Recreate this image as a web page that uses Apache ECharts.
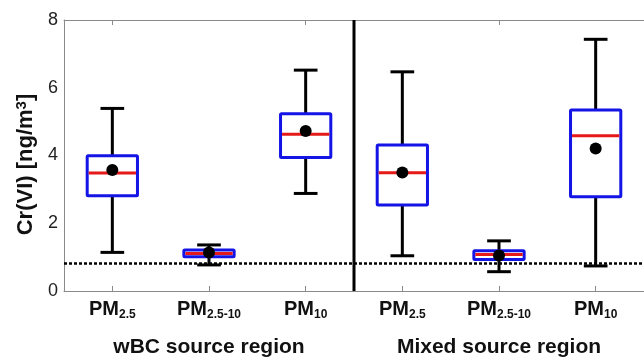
<!DOCTYPE html>
<html>
<head>
<meta charset="utf-8">
<script src="https://cdn.jsdelivr.net/npm/echarts@6/dist/echarts.min.js"></script>
<style>html,body{margin:0;padding:0;background:#fff;}#c{width:644px;height:359px;}</style>
</head>
<body>
<div id="c"></div>
<script>
// categories (one per box)
var categories = ['wBC PM2.5', 'wBC PM2.5-10', 'wBC PM10', 'Mixed PM2.5', 'Mixed PM2.5-10', 'Mixed PM10'];
var subscripts = ['2.5', '2.5-10', '10', '2.5', '2.5-10', '10'];
var groups = ['wBC source region', 'Mixed source region'];
// box stats: [min, q1, median, q3, max]
var boxMin    = [1.14, 0.77, 2.88, 1.04, 0.57, 0.74];
var boxQ1     = [2.81, 1.01, 3.94, 2.54, 0.93, 2.78];
var boxMedian = [3.48, 1.11, 4.63, 3.49, 1.08, 4.58];
var boxQ3     = [3.99, 1.21, 5.23, 4.31, 1.19, 5.34];
var boxMax    = [5.39, 1.36, 6.52, 6.47, 1.48, 7.43];
var means     = [3.57, 1.14, 4.72, 3.50, 1.05, 4.21];
var refLine = 0.83;      // dotted reference level
var separatorAfter = 2;  // index of the last box in the first group
var yTicks = [0, 2, 4, 6, 8];

var boxData = categories.map(function (c, i) {
  return [i, boxMin[i], boxQ1[i], boxMedian[i], boxQ3[i], boxMax[i]];
});
var meanData = categories.map(function (c, i) { return [i, means[i]]; });

var chart = echarts.init(document.getElementById('c'), null, {renderer: 'canvas'});

function renderBox(params, api) {
  var x = api.value(0);
  var band = api.size([1, 0])[0];
  var bw = band * 0.52, cw = band * 0.245;
  var pMin = api.coord([x, api.value(1)]);
  var pQ1 = api.coord([x, api.value(2)]);
  var pMed = api.coord([x, api.value(3)]);
  var pQ3 = api.coord([x, api.value(4)]);
  var pMax = api.coord([x, api.value(5)]);
  var cx = pMin[0];
  var black = {stroke: '#000', lineWidth: 3, lineCap: 'butt'};
  return {
    type: 'group',
    children: [
      {type: 'line', shape: {x1: cx, y1: pMin[1], x2: cx, y2: pQ1[1]}, style: black},
      {type: 'line', shape: {x1: cx, y1: pQ3[1], x2: cx, y2: pMax[1]}, style: black},
      {type: 'line', shape: {x1: cx - cw / 2, y1: pMin[1], x2: cx + cw / 2, y2: pMin[1]}, style: black},
      {type: 'line', shape: {x1: cx - cw / 2, y1: pMax[1], x2: cx + cw / 2, y2: pMax[1]}, style: black},
      {type: 'rect', shape: {x: cx - bw / 2, y: pQ3[1], width: bw, height: pQ1[1] - pQ3[1], r: 1},
        style: {fill: '#fff', stroke: '#1414e6', lineWidth: 3, lineJoin: 'round'}},
      {type: 'line', shape: {x1: cx - bw / 2 + 1.5, y1: pMed[1], x2: cx + bw / 2 - 1.5, y2: pMed[1]},
        style: {stroke: '#e61919', lineWidth: 3}}
    ]
  };
}

function renderSeparator(params, api) {
  var a = api.coord([separatorAfter, 0]);
  var b = api.coord([separatorAfter + 1, 0]);
  var x = (a[0] + b[0]) / 2;
  var cs = params.coordSys;
  return {type: 'line', shape: {x1: x, y1: cs.y, x2: x, y2: cs.y + cs.height},
    style: {stroke: '#000', lineWidth: 3}};
}

var option = {
  backgroundColor: '#fff',
  animation: false,
  grid: {left: 64, top: 20, width: 589, height: 271},
  xAxis: [
    {
      type: 'category', data: categories, position: 'bottom', boundaryGap: true,
      axisLine: {show: true, lineStyle: {color: '#8a8a8a', width: 1}},
      axisTick: {show: true, inside: true, alignWithLabel: true, length: 5, lineStyle: {color: '#8a8a8a'}},
      axisLabel: {
        margin: 8, interval: 0,
        formatter: function (v, i) { return '{a|PM}{b|' + subscripts[i] + '}'; },
        rich: {
          a: {fontSize: 20, fontWeight: 'bold', fontFamily: 'Liberation Sans, Arial', color: '#111', lineHeight: 20, verticalAlign: 'bottom'},
          b: {fontSize: 12, fontWeight: 'bold', fontFamily: 'Liberation Sans, Arial', color: '#111', lineHeight: 12, verticalAlign: 'bottom', padding: [0, 0, -2, 0]}
        }
      },
      splitLine: {show: false}
    },
    {
      type: 'category', data: categories, position: 'top', boundaryGap: true,
      axisLine: {show: true, lineStyle: {color: '#8a8a8a', width: 1}},
      axisTick: {show: true, inside: true, alignWithLabel: true, length: 5, lineStyle: {color: '#8a8a8a'}},
      axisLabel: {show: false}, splitLine: {show: false}
    },
    {
      type: 'category', data: groups, position: 'bottom', boundaryGap: true, gridIndex: 0,
      axisLine: {show: false}, axisTick: {show: false}, splitLine: {show: false},
      axisLabel: {margin: 46, interval: 0, fontSize: 21, fontWeight: 'bold', fontFamily: 'Liberation Sans, Arial', color: '#111', lineHeight: 21}
    }
  ],
  yAxis: {
    type: 'value', min: yTicks[0], max: yTicks[yTicks.length - 1], interval: 2,
    axisLine: {show: true, lineStyle: {color: '#8a8a8a', width: 1}},
    axisTick: {show: false},
    splitLine: {show: false},
    axisLabel: {margin: 6, fontSize: 18, fontFamily: 'Liberation Sans, Arial', color: '#222'},
    name: 'Cr(VI) [ng/m{s|3}]',
    nameLocation: 'middle', nameGap: 27, nameRotate: 90,
    nameTextStyle: {fontSize: 22, fontWeight: 'bold', fontFamily: 'Liberation Sans, Arial', color: '#111',
      padding: [0, 18, 0, 0],
      rich: {s: {fontSize: 15, fontWeight: 'bold', fontFamily: 'Liberation Sans, Arial', color: '#111', verticalAlign: 'top', padding: [0, 0, 8, 0]}}}
  },
  series: [
    {
      type: 'custom', xAxisIndex: 0, renderItem: renderSeparator, data: [[0]], z: 1, silent: true
    },
    {
      type: 'custom', xAxisIndex: 0, renderItem: renderBox, data: boxData,
      encode: {x: 0, y: [1, 2, 3, 4, 5]}, z: 2, silent: true
    },
    {
      type: 'scatter', xAxisIndex: 0, data: meanData, symbol: 'circle', symbolSize: 12,
      itemStyle: {color: '#000', opacity: 1}, z: 4, silent: true,
      markLine: {
        silent: true, symbol: ['none', 'none'], label: {show: false},
        lineStyle: {color: '#000', type: [3, 2], width: 2.5, opacity: 1},
        data: [{yAxis: refLine}], z: 3
      }
    }
  ]
};
chart.setOption(option);
</script>
</body>
</html>
